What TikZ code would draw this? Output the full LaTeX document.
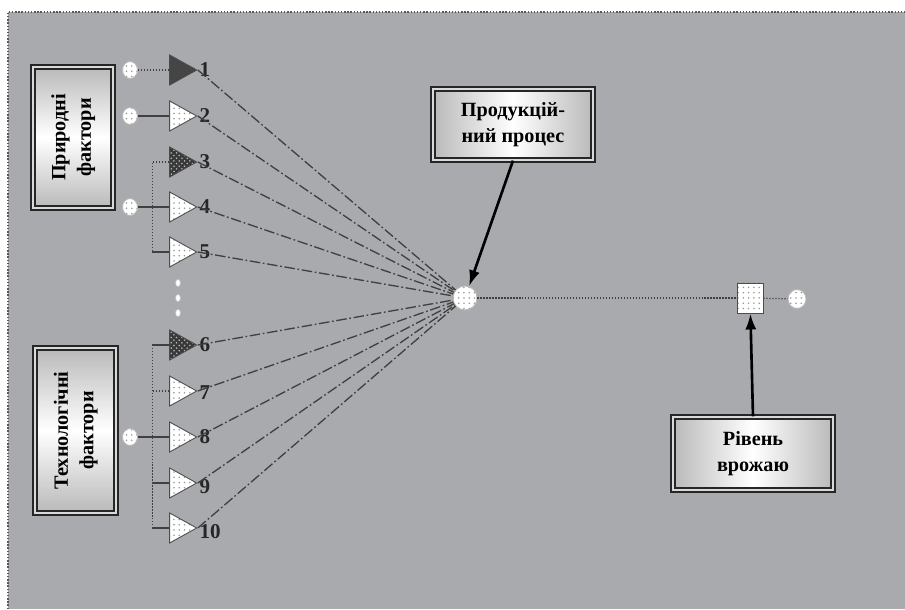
\documentclass[tikz,border=0pt]{standalone}
\usepackage{fontspec}
\setmainfont{Liberation Serif}
\usetikzlibrary{positioning, arrows.meta, calc, shapes, patterns}

\definecolor{panel}{RGB}{168,170,173}

\begin{document}
\begin{tikzpicture}[>=Latex, thick,
  factor/.style={draw=black!85, double=gray!30, double distance=1.6pt, line width=0.7pt,
    left color=gray!55, right color=gray!55, middle color=white,
    font=\bfseries\fontsize{11.5}{14.5}\selectfont, align=center, inner sep=2pt},
  vfactor/.style={factor, top color=gray!55, bottom color=gray!55, middle color=white},
  tri/.style={isosceles triangle, isosceles triangle stretches, draw=black!70, line width=0.5pt,
    minimum width=0.6cm, minimum height=0.54cm, inner sep=0pt,
    preaction={fill=white}, pattern=dots, pattern color=gray!80},
  dark/.style={preaction={fill=gray!45!black}, pattern=crosshatch dots, pattern color=gray!55},
  num/.style={font=\bfseries\fontsize{12}{13}\selectfont, inner sep=0.6pt, text=black!85},
  src/.style={ellipse, draw=gray!55, line width=0.5pt, minimum width=0.3cm, minimum height=0.34cm,
    inner sep=0pt, preaction={fill=white}, pattern=dots, pattern color=gray!80},
  pt/.style={ellipse, draw=gray!50, fill=white, line width=0.4pt, minimum width=0.1cm,
    minimum height=0.15cm, inner sep=0pt},
  fan/.style={draw=black!75, line width=0.75pt, dash pattern=on 6pt off 1.5pt on 1pt off 1.5pt},
  link/.style={draw=black!75, line width=0.7pt},
  dotlink/.style={draw=black!75, line width=0.7pt, densely dotted},
  big/.style={line width=1.5pt, -{Latex[length=3.2mm,width=2.2mm]}}
]
\useasboundingbox (0,0) rectangle (18.1,12.18);
% background panel
\fill[panel] (0.16,0) rectangle (18.1,11.94);
\draw[black!65, line width=0.8pt, densely dotted] (0.16,0) -- (0.16,11.94) -- (18.1,11.94);

% factor boxes
\node[vfactor, minimum width=1.6cm, minimum height=2.82cm] (nat) at (1.46,9.43)
  {\rotatebox{90}{\begin{tabular}{@{}c@{}}Природні\\фактори\end{tabular}}};
\node[vfactor, minimum width=1.62cm, minimum height=3.3cm] (tech) at (1.51,3.57)
  {\rotatebox{90}{\begin{tabular}{@{}c@{}}Технологічні\\фактори\end{tabular}}};
\node[factor, minimum width=3.2cm, minimum height=1.42cm] (proc) at (10.26,9.69) {Продукцій-\\ний процес};
\node[factor, minimum width=3.2cm, minimum height=1.46cm] (yield) at (15.06,3.11) {Рівень\\врожаю};

% inputs
\node[tri, dark, preaction={fill=gray!55!black}, pattern color=gray!50!black, label={[num]east:1}] (t1) at (3.57,10.78) {};
\node[tri, label={[num]east:2}] (t2) at (3.57,9.86) {};
\node[tri, dark, label={[num]east:3}] (t3) at (3.57,8.94) {};
\node[tri, label={[num]east:4}] (t4) at (3.57,8.04) {};
\node[tri, label={[num]east:5}] (t5) at (3.57,7.14) {};
\node[pt] (d1) at (3.56,6.52) {};
\node[pt] (d2) at (3.56,6.22) {};
\node[pt] (d3) at (3.56,5.92) {};
\node[tri, dark, label={[num]east:6}] (t6) at (3.57,5.28) {};
\node[tri, label={[num, yshift=-1pt]east:7}] (t7) at (3.57,4.36) {};
\node[tri, label={[num]east:8}] (t8) at (3.57,3.44) {};
\node[tri, label={[num, yshift=-2pt]east:9}] (t9) at (3.57,2.52) {};
\node[tri, label={[num, yshift=-2pt]east:10}] (t10) at (3.57,1.62) {};

\node[src] (s1) at (2.6,10.78) {};
\node[src] (s2) at (2.6,9.86) {};
\node[src] (s4) at (2.6,8.04) {};
\node[src] (s8) at (2.6,3.44) {};

\draw[dotlink] (s1) -- (t1);
\draw[link] (s2) -- (t2);
\draw[link] (s4) -- (t4);
\draw[link] (s8) -- (t8);

% branches
\draw[dotlink] (t3.west) -- ++(-0.34,0) coordinate (b3) -- (b3 |- t5.west);
\draw[link] (t5.west) -- (b3 |- t5.west);
\draw[link] (t6.west) -- ++(-0.34,0) coordinate (b6);
\draw[dotlink] (b6) -- (b6 |- t10.west);
\draw[dotlink] (t7.west) -- (b6 |- t7.west);
\draw[link] (t9.west) -- (b6 |- t9.west);
\draw[link] (t10.west) -- (b6 |- t10.west);

% process and result
\node[src, minimum width=0.48cm, minimum height=0.48cm] (centre) at (9.3,6.22) {};
\node[draw=black!70, line width=0.5pt, minimum width=0.52cm, minimum height=0.6cm, inner sep=0pt,
  preaction={fill=white}, pattern=dots, pattern color=gray!80] (sq) at (15.0,6.22) {};
\node[src, minimum width=0.36cm, minimum height=0.38cm] (out) at (15.94,6.2) {};

\draw[fan] (t1.east) -- (centre);
\draw[fan] (t2.east) -- (centre);
\draw[fan] (t3.east) -- (centre);
\draw[fan] (t4.east) -- (centre);
\draw[fan] (t5.east) -- (centre);
\draw[fan] (t6.east) -- (centre);
\draw[fan] (t7.east) -- (centre);
\draw[fan] (t8.east) -- (centre);
\draw[fan] (t9.east) -- (centre);
\draw[fan] (t10.east) -- (centre);

\draw[dotlink] (centre) -- (sq);
\draw[dotlink] (sq) -- (out);

\draw[big] (proc.south) -- (centre);
\draw[big] (yield.north) -- (sq);
\end{tikzpicture}
\end{document}
